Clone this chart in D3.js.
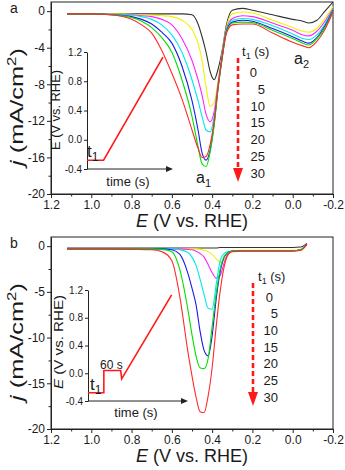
<!DOCTYPE html>
<html>
<head>
<meta charset="utf-8">
<script src="https://cdn.jsdelivr.net/npm/d3@7"></script>
<style>
  body { margin: 0; background: #fff; }
  svg text { font-family: "Liberation Sans", Arial, sans-serif; fill: #1a1a1a; }
  .axis path, .axis line { stroke: #222; }
</style>
</head>
<body>
<div id="chart"></div>
<script>
// ---- data ----
var holdTimes = ["0", "5", "10", "15", "20", "25", "30"];
var lineColors = ["#333333", "#f2f200", "#ff22ff", "#00e8f0", "#1a1ae6", "#00e000", "#ff2a2a"];

// panel a : potential grid (V vs RHE) and current density (mA/cm2)
var potA = [1.12, 1.0, 0.9, 0.8, 0.75, 0.7, 0.65, 0.6, 0.55, 0.5, 0.47, 0.45, 0.43, 0.41, 0.39, 0.37, 0.35, 0.33, 0.3, 0.25, 0.2, 0.1, 0.0, -0.05, -0.08, -0.12, -0.16, -0.2];
var jA0  = [-0.3, -0.3, -0.3, -0.3, -0.3, -0.3, -0.3, -0.3, -0.3, -0.4, -1.4, -2.8, -4.5, -6.6, -7.5, -6.3, -4.3, -1.6, 0.1, 0.3, 0.1, -0.4, -0.9, -1.1, -1.3, -1.0, 0.0, 1.0];
var jA5  = [-0.3, -0.3, -0.3, -0.35, -0.4, -0.45, -0.5, -0.6, -1.0, -2.0, -3.5, -5.4, -8.3, -10.4, -10.0, -7.5, -4.6, -1.9, -0.3, -0.1, -0.2, -1.0, -1.8, -2.2, -2.3, -1.9, -0.8, 0.5];
var jA10 = [-0.3, -0.3, -0.35, -0.4, -0.5, -0.6, -0.9, -1.5, -3.0, -5.4, -7.5, -9.2, -11.3, -12.1, -11.0, -7.8, -4.8, -2.1, -0.8, -0.5, -0.6, -1.3, -2.1, -2.6, -2.7, -2.2, -1.1, 0.3];
var jA15 = [-0.3, -0.3, -0.35, -0.45, -0.6, -0.9, -1.5, -2.6, -4.5, -7.5, -9.8, -11.5, -13.0, -13.2, -11.5, -8.0, -4.9, -2.2, -1.0, -0.8, -0.9, -1.6, -2.5, -3.0, -3.1, -2.6, -1.4, 0.2];
var jA20 = [-0.3, -0.3, -0.4, -0.6, -0.9, -1.4, -2.3, -3.5, -6.0, -9.8, -13.0, -15.5, -16.3, -15.2, -12.3, -8.3, -5.0, -2.3, -1.2, -1.0, -1.1, -1.9, -2.8, -3.3, -3.5, -2.9, -1.6, 0.1];
var jA25 = [-0.3, -0.3, -0.4, -0.7, -1.1, -1.8, -2.9, -4.5, -7.5, -11.5, -14.8, -16.7, -17.0, -15.4, -12.5, -8.4, -5.1, -2.4, -1.3, -1.2, -1.25, -2.1, -3.0, -3.5, -3.7, -3.0, -1.8, 0.0];
var jA30 = [-0.3, -0.3, -0.4, -0.9, -1.5, -2.4, -4.3, -6.8, -9.6, -13.0, -15.0, -16.0, -15.9, -14.6, -12.0, -8.2, -5.1, -2.5, -1.5, -1.4, -1.4, -2.4, -3.4, -3.8, -4.0, -3.3, -2.0, -0.1];

// panel b
var potB = [1.12, 1.0, 0.9, 0.8, 0.7, 0.65, 0.6, 0.56, 0.52, 0.5, 0.48, 0.46, 0.44, 0.42, 0.4, 0.38, 0.36, 0.34, 0.32, 0.3, 0.25, 0.2, 0.1, 0.0, -0.04, -0.07];
var jB0  = [-0.2, -0.2, -0.2, -0.2, -0.2, -0.2, -0.2, -0.2, -0.2, -0.2, -0.2, -0.2, -0.2, -0.2, -0.2, -0.2, -0.15, -0.15, -0.15, -0.15, -0.15, -0.15, -0.15, -0.15, -0.1, 0.3];
var jB5  = [-0.3, -0.3, -0.3, -0.3, -0.3, -0.3, -0.3, -0.3, -0.3, -0.3, -0.3, -0.35, -0.45, -0.6, -0.9, -1.4, -1.75, -1.5, -0.8, -0.5, -0.45, -0.45, -0.45, -0.45, -0.35, 0.2];
var jB10 = [-0.3, -0.3, -0.3, -0.3, -0.3, -0.3, -0.3, -0.3, -0.35, -0.4, -0.55, -0.8, -1.2, -2.0, -2.9, -3.5, -3.2, -1.8, -0.8, -0.55, -0.5, -0.5, -0.5, -0.5, -0.4, 0.2];
var jB15 = [-0.3, -0.3, -0.3, -0.3, -0.3, -0.3, -0.3, -0.4, -0.7, -1.2, -2.1, -3.6, -5.3, -6.8, -6.9, -4.2, -1.6, -0.8, -0.6, -0.55, -0.5, -0.5, -0.5, -0.5, -0.4, 0.2];
var jB20 = [-0.3, -0.3, -0.3, -0.3, -0.3, -0.3, -0.4, -0.9, -3.0, -4.6, -6.4, -9.3, -11.4, -12.0, -9.8, -5.8, -2.8, -1.2, -0.7, -0.55, -0.5, -0.5, -0.5, -0.5, -0.4, 0.2];
var jB25 = [-0.3, -0.3, -0.3, -0.3, -0.3, -0.35, -0.6, -2.6, -7.0, -9.7, -12.0, -13.3, -13.4, -12.3, -8.8, -5.2, -2.5, -1.1, -0.7, -0.55, -0.5, -0.5, -0.5, -0.5, -0.4, 0.2];
var jB30 = [-0.3, -0.3, -0.3, -0.35, -0.4, -0.6, -1.6, -5.6, -11.6, -14.2, -16.5, -18.1, -18.2, -16.4, -13.3, -8.8, -4.9, -2.2, -0.9, -0.6, -0.55, -0.55, -0.55, -0.55, -0.45, 0.2];

// axis ticks
var potTicks = [1.2, 1.0, 0.8, 0.6, 0.4, 0.2, 0.0, -0.2];
var potMinor = [1.1, 0.9, 0.7, 0.5, 0.3, 0.1, -0.1];
var jTicksA = [0, -4, -8, -12, -16, -20];
var jMinorA = [-2, -6, -10, -14, -18];
var jTicksB = [0, -5, -10, -15, -20];
var jMinorB = [-2.5, -7.5, -12.5, -17.5];
var insetTicks = [1.2, 0.8, 0.4, 0.0, -0.4];

// inset potential programs (time in arbitrary units)
var insetA_t = [0, 2, 9.15];
var insetA_E = [-0.28, -0.28, 1.13];
var insetB_t = [0, 1.6, 1.6, 3.3, 3.4, 8.45];
var insetB_E = [-0.28, -0.28, 0.04, 0.04, -0.08, 1.13];

var svg = d3.select("#chart").append("svg")
    .attr("width", 345)
    .attr("height", 470);

var left = 51, right = 333;

function drawPanel(p) {
  var x = d3.scaleLinear().domain([1.2, -0.2]).range([left, right]);
  var y = d3.scaleLinear().domain([1, -20]).range([p.top, p.bottom]);
  var g = svg.append("g");

  // axes
  g.append("g").attr("class", "axis")
      .attr("transform", "translate(0," + p.bottom + ")")
      .call(d3.axisBottom(x).tickValues(potTicks).tickFormat(function(d) { return d.toFixed(1); })
        .tickSize(4).tickSizeOuter(0).tickPadding(2))
      .selectAll("text").style("font-size", "12px");
  g.append("g").attr("class", "axis")
      .attr("transform", "translate(0," + p.bottom + ")")
      .call(d3.axisBottom(x).tickValues(potMinor).tickFormat("").tickSize(2.5).tickSizeOuter(0));
  g.append("g").attr("class", "axis")
      .attr("transform", "translate(" + left + ",0)")
      .call(d3.axisLeft(y).tickValues(p.yTicks).tickFormat(function(d) { return d; })
        .tickSize(4).tickSizeOuter(0).tickPadding(2))
      .selectAll("text").style("font-size", "12px");
  g.append("g").attr("class", "axis")
      .attr("transform", "translate(" + left + ",0)")
      .call(d3.axisLeft(y).tickValues(p.yMinor).tickFormat("").tickSize(2.5).tickSizeOuter(0));
  g.selectAll(".axis text").attr("fill", "#1a1a1a");

  // frame
  g.append("rect")
      .attr("x", left).attr("y", y(1))
      .attr("width", right - left).attr("height", p.bottom - y(1))
      .attr("fill", "none").attr("stroke", "#222").attr("stroke-width", 1);

  // curves
  var line = d3.line()
      .x(function(d, i) { return x(p.pot[i]); })
      .y(function(d) { return y(d); })
      .curve(d3.curveMonotoneX);
  p.series.forEach(function(s, i) {
    g.append("path")
        .attr("d", line(s))
        .attr("fill", "none")
        .attr("stroke", lineColors[i])
        .attr("stroke-width", 1.1);
  });

  // panel letter
  g.append("text").attr("x", 10).attr("y", p.top + 11)
      .style("font-size", "14px").text(p.letter);

  // y title (stretched like the original)
  var yt = g.append("text")
      .attr("transform", "translate(" + 23 + "," + p.yTitleY + ") rotate(-90)")
      .attr("text-anchor", "middle")
      .attr("textLength", 118)
      .attr("lengthAdjust", "spacingAndGlyphs")
      .style("font-size", "18px");
  yt.append("tspan").style("font-style", "italic").text("j");
  yt.append("tspan").text(" (mA/cm");
  yt.append("tspan").attr("dy", -7).style("font-size", "12px").text("2");
  yt.append("tspan").attr("dy", 7).text(")");

  // x title
  var xt = g.append("text")
      .attr("x", 192).attr("y", p.bottom + 33)
      .attr("text-anchor", "middle")
      .style("font-size", "18px");
  xt.append("tspan").style("font-style", "italic").text("E");
  xt.append("tspan").text(" (V vs. RHE)");

  // legend
  var lg = g.append("text").attr("x", p.legX).attr("y", p.legY)
      .style("font-size", "13px");
  lg.append("tspan").text("t");
  lg.append("tspan").attr("dy", 3).style("font-size", "9px").text("1");
  lg.append("tspan").attr("dy", -3).text(" (s)");

  g.selectAll(".legval")
      .data(holdTimes)
    .enter().append("text")
      .attr("class", "legval")
      .attr("x", function(d, i) { return p.valX - (i == 0 ? p.zeroShift : 0); })
      .attr("y", function(d, i) { return p.valY + i * p.valStep; })
      .attr("text-anchor", "end")
      .style("font-size", "13px")
      .text(function(d) { return d; });

  // dashed red arrow
  g.append("line")
      .attr("x1", p.arrX).attr("x2", p.arrX)
      .attr("y1", p.arrY0).attr("y2", p.arrY1 - 12)
      .attr("stroke", "#ff1a1a").attr("stroke-width", 2.6)
      .attr("stroke-dasharray", "5,3");
  g.append("path")
      .attr("d", "M" + (p.arrX - 5) + "," + (p.arrY1 - 14) + "L" + (p.arrX + 5) + "," + (p.arrY1 - 14) + "L" + p.arrX + "," + p.arrY1 + "Z")
      .attr("fill", "#ff1a1a");

  return g;
}

function drawInset(g, q) {
  var x = d3.scaleLinear().domain([0, 10]).range([q.x0, q.x1]);
  var y = d3.scaleLinear().domain([-0.4, 1.2]).range([q.y0, q.y1]);

  g.append("g").attr("class", "axis")
      .attr("transform", "translate(" + q.x0 + ",0)")
      .call(d3.axisLeft(y).tickValues(insetTicks).tickFormat(function(d) { return d.toFixed(1); })
        .tickSize(3).tickSizeOuter(0).tickPadding(2))
      .selectAll("text").style("font-size", "10px");
  g.append("line")
      .attr("x1", q.x0).attr("x2", q.xArrow - 5)
      .attr("y1", q.y0).attr("y2", q.y0)
      .attr("stroke", "#222");
  g.append("path")
      .attr("d", "M" + (q.xArrow - 7) + "," + (q.y0 - 3) + "L" + q.xArrow + "," + q.y0 + "L" + (q.xArrow - 7) + "," + (q.y0 + 3) + "Z")
      .attr("fill", "#222");

  var line = d3.line()
      .x(function(d, i) { return x(q.t[i]); })
      .y(function(d) { return y(d); });
  g.append("path")
      .attr("d", line(q.E))
      .attr("fill", "none")
      .attr("stroke", "#ff1a1a")
      .attr("stroke-width", 1.6);

  // labels
  var yl = g.append("text")
      .attr("transform", "translate(" + q.labX + "," + q.labY + ") rotate(-90)")
      .attr("text-anchor", "middle")
      .attr("textLength", q.labLen)
      .attr("lengthAdjust", "spacingAndGlyphs")
      .style("font-size", q.labSize + "px");
  yl.append("tspan").style("font-style", q.italicE ? "italic" : "normal").text("E");
  yl.append("tspan").text(" (V vs. RHE)");

  g.append("text")
      .attr("x", q.timeX).attr("y", q.timeY)
      .attr("text-anchor", "middle")
      .style("font-size", "13px")
      .text("time (s)");

  var t1 = g.append("text").attr("x", q.t1X).attr("y", q.t1Y).style("font-size", "17px");
  t1.append("tspan").text("t");
  t1.append("tspan").attr("dy", 4).style("font-size", "12px").text("1");
}

var gA = drawPanel({
  top: 2, bottom: 194, letter: "a", pot: potA,
  series: [jA0, jA5, jA10, jA15, jA20, jA25, jA30],
  yTicks: jTicksA, yMinor: jMinorA, yTitleY: 107,
  legX: 242, legY: 56, valX: 265, zeroShift: 8, valY: 77, valStep: 16.8,
  arrX: 238, arrY0: 58, arrY1: 182
});
drawInset(gA, {
  x0: 87, x1: 170, xArrow: 173, y0: 169, y1: 52,
  t: insetA_t, E: insetA_E,
  labX: 60, labY: 110, labSize: 12, labLen: 80, italicE: false,
  timeX: 128, timeY: 186, t1X: 87, t1Y: 157
});

var gB = drawPanel({
  top: 237, bottom: 429, letter: "b", pot: potB,
  series: [jB0, jB5, jB10, jB15, jB20, jB25, jB30],
  yTicks: jTicksB, yMinor: jMinorB, yTitleY: 342,
  legX: 258, legY: 281, valX: 278, zeroShift: 5, valY: 301.5, valStep: 16.7,
  arrX: 253, arrY0: 283, arrY1: 406
});
drawInset(gB, {
  x0: 88, x1: 187, xArrow: 188, y0: 401, y1: 290,
  t: insetB_t, E: insetB_E,
  labX: 63, labY: 342, labSize: 13, labLen: 94, italicE: true,
  timeX: 136, timeY: 417, t1X: 90, t1Y: 390
});

// peak labels in panel a
var a1 = gA.append("text").attr("x", 196).attr("y", 183).style("font-size", "16px");
a1.append("tspan").text("a");
a1.append("tspan").attr("dy", 4).style("font-size", "11px").text("1");
var a2 = gA.append("text").attr("x", 294).attr("y", 64).style("font-size", "16px");
a2.append("tspan").text("a");
a2.append("tspan").attr("dy", 4).style("font-size", "11px").text("2");

// 60 s label in inset b
gB.append("text").attr("x", 100).attr("y", 369).style("font-size", "12px").text("60 s");
</script>
</body>
</html>
